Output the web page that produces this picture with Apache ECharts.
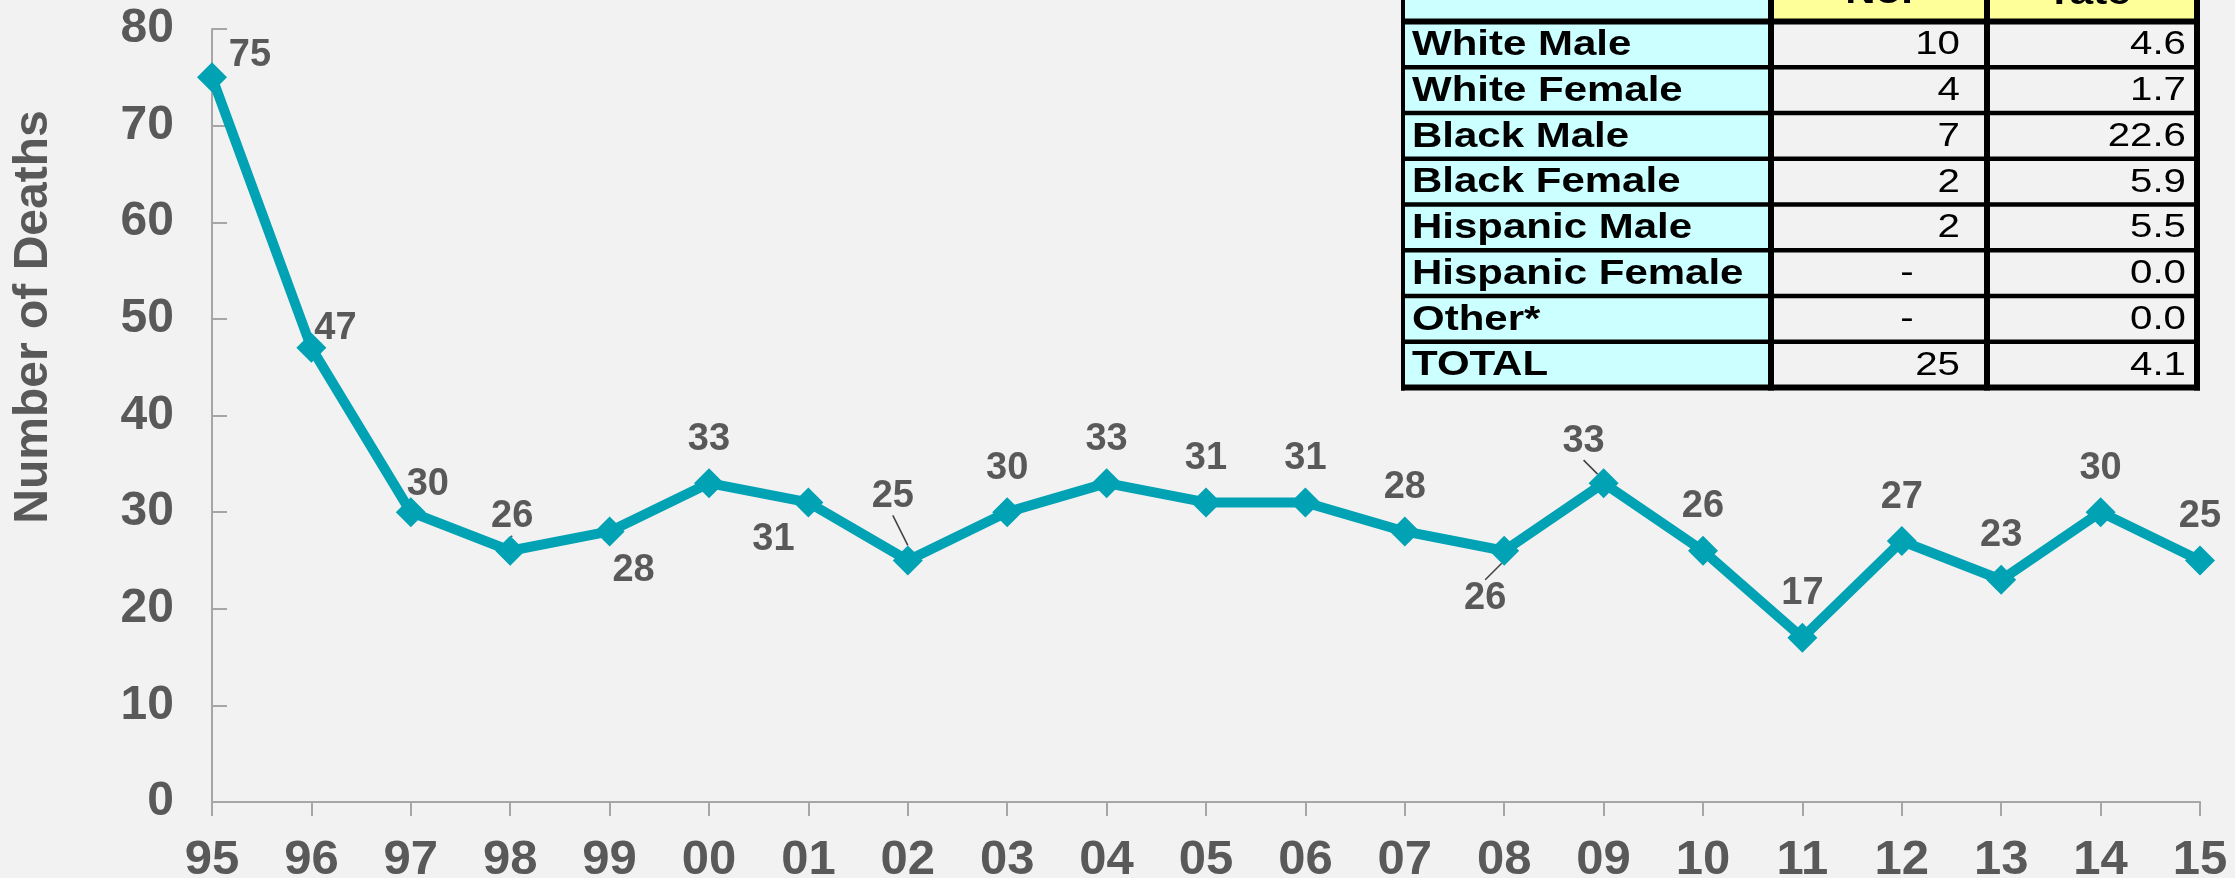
<!DOCTYPE html>
<html>
<head>
<meta charset="utf-8">
<title>Number of Deaths</title>
<script src="https://cdn.jsdelivr.net/npm/echarts@6/dist/echarts.min.js"></script>
<style>
  html, body { margin: 0; padding: 0; background: #F2F2F2; }
  #chart { width: 2235px; height: 878px; }
</style>
</head>
<body>
<div id="chart"></div>
<script>
// Annual number of deaths, 1995-2015
const years = ['95','96','97','98','99','00','01','02','03','04','05','06','07','08','09','10','11','12','13','14','15'];
const deaths = [75, 47, 30, 26, 28, 33, 31, 25, 30, 33, 31, 31, 28, 26, 33, 26, 17, 27, 23, 30, 25];
const yTicks = [0, 10, 20, 30, 40, 50, 60, 70, 80];

// Breakdown table for the latest year
const tableHeaders = ['', 'No.', 'rate'];
const tableGroups = ['White Male', 'White Female', 'Black Male', 'Black Female', 'Hispanic Male', 'Hispanic Female', 'Other*', 'TOTAL'];
const tableCounts = ['10', '4', '7', '2', '2', '-', '-', '25'];
const tableRates = ['4.6', '1.7', '22.6', '5.9', '5.5', '0.0', '0.0', '4.1'];

// Label nudges (pixels) for points whose value label sits off the default spot
const labelNudge = {
  0: [38, 22], 1: [24, 25], 2: [17, 16], 3: [2, 10], 4: [24, 83],
  6: [-35, 81], 7: [-15, -20], 13: [-19, 92], 14: [-20, 2]
};
const guided = new Set([3, 7, 13, 14]);

const FONT = "'Liberation Sans', Arial, sans-serif";
const GREY_TEXT = '#595959';
const AXIS_GREY = '#A6A6A6';
const TEAL = '#00A2B4';

// ---- table drawn with graphic primitives ----
const colX = [1403, 1771, 1987, 2197];
const headerTop = -30;
const headerBottom = 21.5;
const rowH = 45.75;
const rowY = i => headerBottom + i * rowH;
const tableBottom = rowY(tableGroups.length);

const tableEls = [];
// cell fills
tableEls.push({ type: 'rect', shape: { x: colX[0], y: headerTop, width: colX[1] - colX[0], height: tableBottom - headerTop }, style: { fill: '#CCFFFF' } });
tableEls.push({ type: 'rect', shape: { x: colX[1], y: headerTop, width: colX[3] - colX[1], height: headerBottom - headerTop }, style: { fill: '#FFFF99' } });
// grid lines
const hLine = (y, w) => ({ type: 'line', shape: { x1: colX[0] - 2, y1: y, x2: colX[3] + 3, y2: y }, style: { stroke: '#000', lineWidth: w } });
const vLine = (x, w) => ({ type: 'line', shape: { x1: x, y1: headerTop, x2: x, y2: tableBottom + 3 }, style: { stroke: '#000', lineWidth: w } });
tableEls.push(hLine(headerBottom, 6));
for (let i = 1; i < tableGroups.length; i++) tableEls.push(hLine(rowY(i), 4.5));
tableEls.push(hLine(tableBottom, 6));
tableEls.push(vLine(colX[0], 4));
tableEls.push(vLine(colX[1], 6));
tableEls.push(vLine(colX[2], 6));
tableEls.push(vLine(colX[3], 6));

const txt = (text, x, y, opts) => ({
  type: 'text', x: x, y: y, scaleX: opts.scaleX || 1,
  style: {
    text: text, x: 0, y: 0,
    font: (opts.bold ? 'bold ' : '') + opts.size + 'px ' + FONT,
    fill: '#000',
    align: opts.align, textAlign: opts.align,
    verticalAlign: opts.vAlign || 'middle', textVerticalAlign: opts.vAlign || 'middle'
  }
});
// header (only the lower part shows at the top edge)
tableEls.push(txt(tableHeaders[1], (colX[1] + colX[2]) / 2, 11, { bold: true, size: 35, scaleX: 1.2, align: 'center', vAlign: 'bottom' }));
tableEls.push(txt(tableHeaders[2], (colX[2] + colX[3]) / 2, 12, { bold: true, size: 35, scaleX: 1.2, align: 'center', vAlign: 'bottom' }));
tableGroups.forEach((g, i) => {
  const cy = rowY(i) + rowH / 2 + 1;
  tableEls.push(txt(g, 1412, cy, { bold: true, size: 35, scaleX: 1.2, align: 'left' }));
  const c = tableCounts[i];
  if (c === '-') tableEls.push(txt(c, 1907, cy, { size: 33, scaleX: 1.22, align: 'center' }));
  else tableEls.push(txt(c, 1960, cy, { size: 33, scaleX: 1.22, align: 'right' }));
  tableEls.push(txt(tableRates[i], 2186, cy, { size: 33, scaleX: 1.22, align: 'right' }));
});

const chart = echarts.init(document.getElementById('chart'), null, { renderer: 'canvas' });

chart.setOption({
  backgroundColor: '#F2F2F2',
  animation: false,
  grid: { left: 212, right: 35, top: 29, bottom: 76, containLabel: false, outerBoundsMode: 'none' },
  xAxis: {
    type: 'category',
    data: years,
    boundaryGap: false,
    axisLine: { lineStyle: { color: AXIS_GREY, width: 2 } },
    axisTick: { show: true, inside: false, length: 14, alignWithLabel: true, lineStyle: { color: AXIS_GREY, width: 2 } },
    axisLabel: { color: GREY_TEXT, fontFamily: FONT, fontWeight: 'bold', fontSize: 49, margin: 34, interval: 0 }
  },
  yAxis: {
    type: 'value',
    min: yTicks[0],
    max: yTicks[yTicks.length - 1],
    interval: yTicks[1] - yTicks[0],
    axisLine: { show: true, lineStyle: { color: AXIS_GREY, width: 2 } },
    axisTick: { show: true, inside: true, length: 15, lineStyle: { color: AXIS_GREY, width: 2 } },
    axisLabel: { color: GREY_TEXT, fontFamily: FONT, fontWeight: 'bold', fontSize: 48, margin: 38 },
    splitLine: { show: false }
  },
  series: [{
    type: 'line',
    data: deaths.map((v, i) => guided.has(i) ? { value: v, labelLine: { show: true } } : v),
    symbol: 'diamond',
    symbolSize: 30,
    lineStyle: { color: TEAL, width: 10 },
    itemStyle: { color: TEAL },
    label: {
      show: true, position: 'top', distance: 10,
      color: GREY_TEXT, fontFamily: FONT, fontWeight: 'bold', fontSize: 38
    },
    labelLine: { show: false, lineStyle: { color: '#404040', width: 1.5 } },
    labelLayout: p => {
      const n = labelNudge[p.dataIndex];
      return n ? { dx: n[0], dy: n[1] } : {};
    },
    z: 3
  }],
  graphic: [
    {
      type: 'text', x: 34, y: 317, rotation: Math.PI / 2,
      style: {
        text: 'Number of Deaths', x: 0, y: 0,
        font: 'bold 48px ' + FONT, fill: GREY_TEXT,
        align: 'center', textAlign: 'center', verticalAlign: 'middle', textVerticalAlign: 'middle'
      }
    },
    { type: 'group', children: tableEls }
  ]
});
</script>
</body>
</html>
